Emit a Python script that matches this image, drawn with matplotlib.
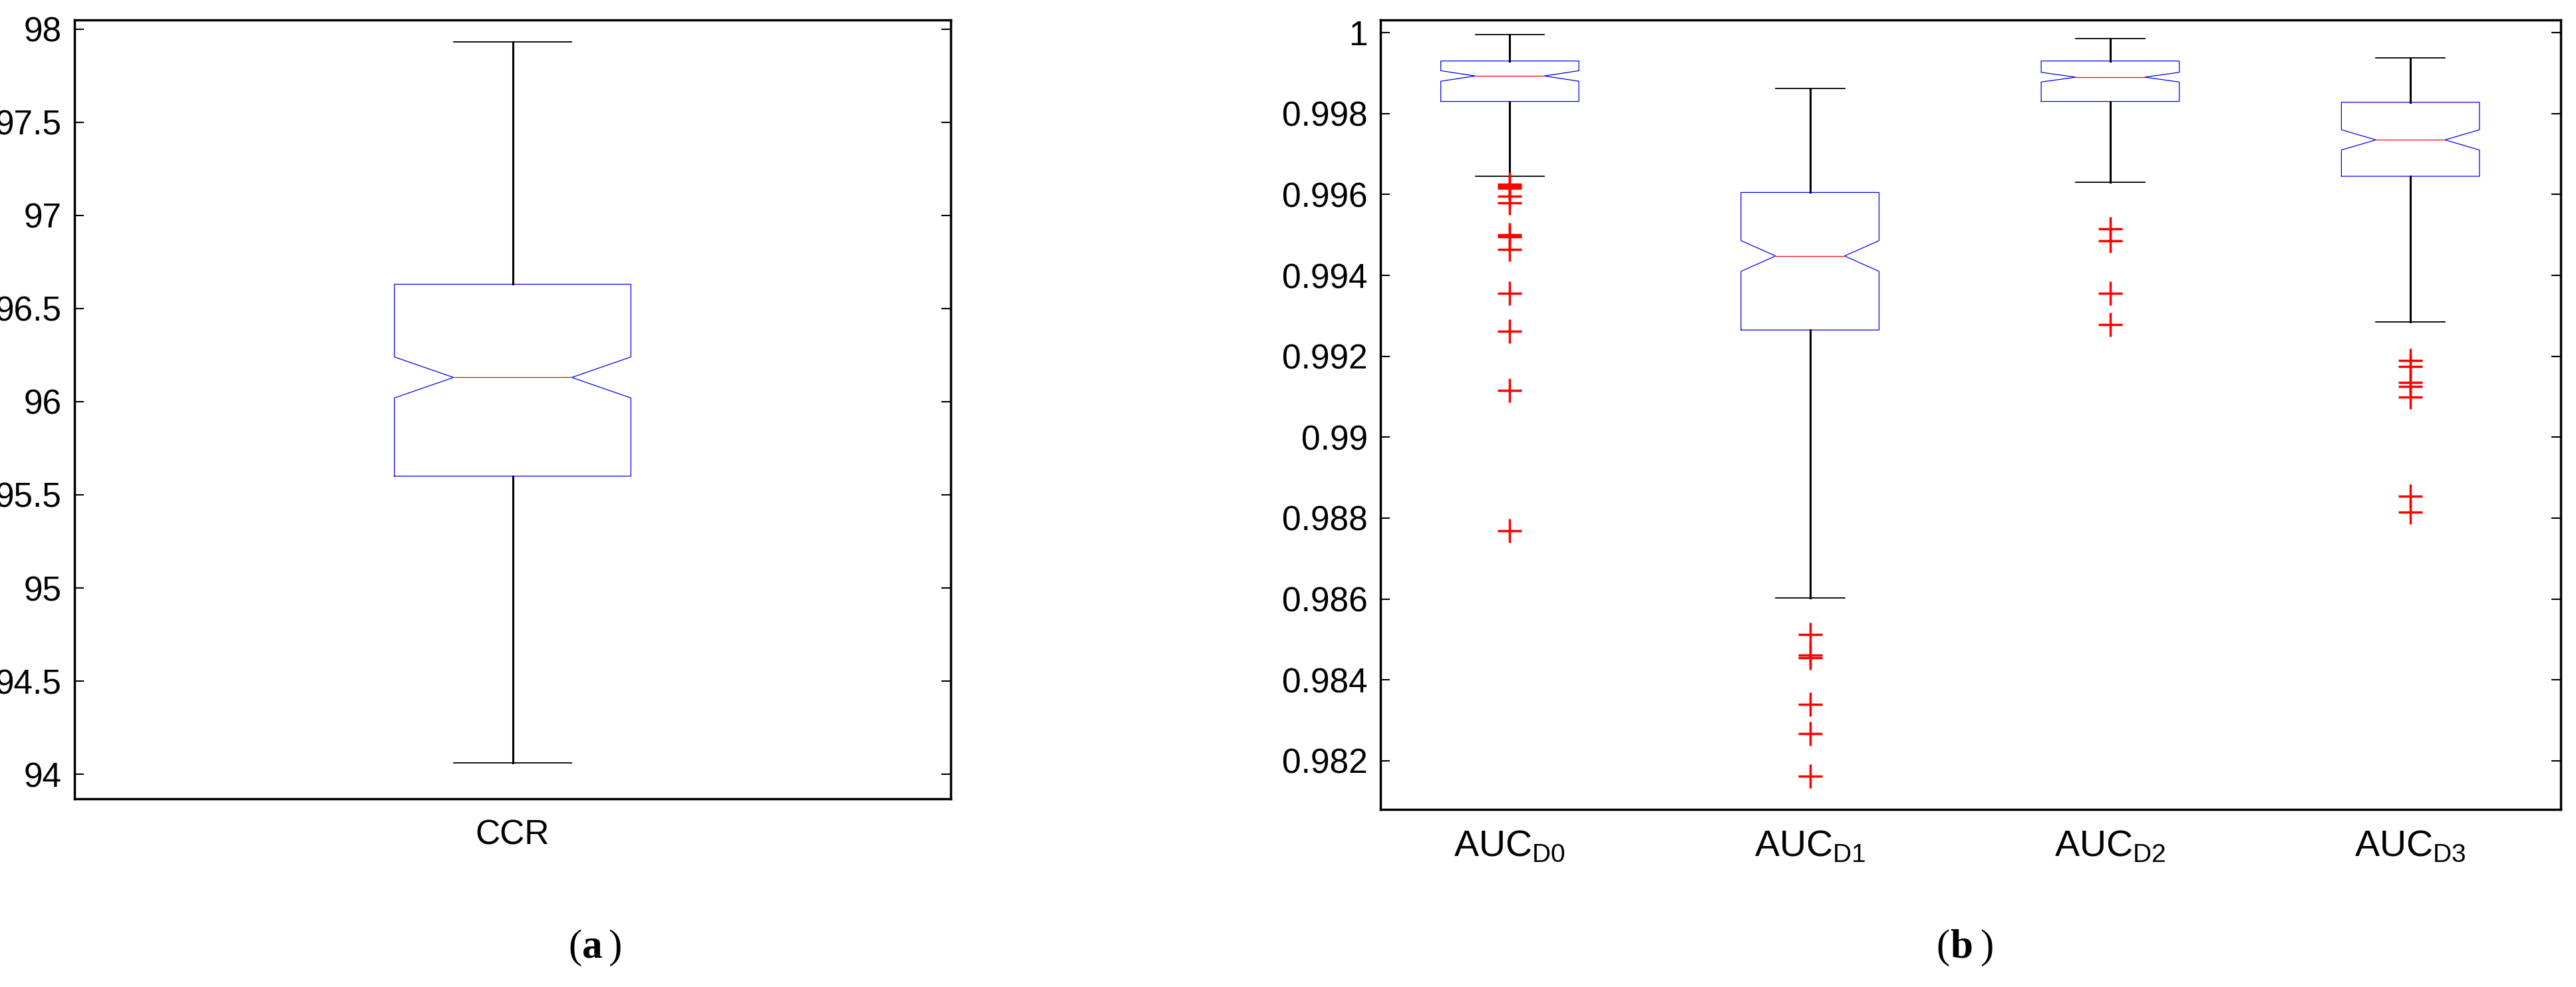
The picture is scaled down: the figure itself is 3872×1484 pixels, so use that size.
import matplotlib.pyplot as plt
from matplotlib.ticker import FuncFormatter

plt.rcParams['font.family'] = ['Liberation Sans', 'DejaVu Sans']
plt.rcParams['mathtext.fontset'] = 'custom'
plt.rcParams['mathtext.rm'] = 'Liberation Sans'
plt.rcParams['mathtext.bf'] = 'Liberation Serif:bold'

# panel (a)
ccr_label = ['CCR']
ccr_stats = dict(whislo=94.06, q1=95.60, med=96.13, q3=96.63, whishi=97.93,
                 cilo=96.02, cihi=96.24, fliers=[])

# panel (b)
auc_labels = ['AUC$_{\\mathrm{D0}}$', 'AUC$_{\\mathrm{D1}}$', 'AUC$_{\\mathrm{D2}}$', 'AUC$_{\\mathrm{D3}}$']
auc_whislo = [0.99645, 0.98602, 0.99630, 0.99285]
auc_q1 = [0.99830, 0.99265, 0.99830, 0.99645]
auc_med = [0.99893, 0.99448, 0.99890, 0.99735]
auc_q3 = [0.99930, 0.99605, 0.99930, 0.99828]
auc_whishi = [0.99995, 0.99862, 0.99985, 0.99938]
auc_cilo = [0.99880, 0.99410, 0.99878, 0.99710]
auc_cihi = [0.99906, 0.99486, 0.99902, 0.99760]
auc_fliers = [
    [0.99625, 0.99620, 0.99615, 0.99595, 0.99580, 0.99500, 0.99495, 0.99465, 0.99355, 0.99262, 0.99115, 0.98768],
    [0.98512, 0.98462, 0.98455, 0.98340, 0.98268, 0.98162],
    [0.99515, 0.99485, 0.99355, 0.99278],
    [0.99190, 0.99175, 0.99135, 0.99125, 0.99100, 0.98855, 0.98815],
]

auc_stats = [dict(whislo=auc_whislo[i], q1=auc_q1[i], med=auc_med[i], q3=auc_q3[i],
                  whishi=auc_whishi[i], cilo=auc_cilo[i], cihi=auc_cihi[i],
                  fliers=auc_fliers[i]) for i in range(4)]

style = dict(
    shownotches=True,
    boxprops=dict(color='blue', linewidth=0.9),
    medianprops=dict(color='red', linewidth=0.9),
    whiskerprops=dict(color='black', linewidth=2.2),
    capprops=dict(color='black', linewidth=1.3),
    flierprops=dict(marker='+', markeredgecolor='red', markersize=26, markeredgewidth=2.5),
)

fig = plt.figure(figsize=(38.72, 14.84), dpi=100)
ax1 = fig.add_axes([0.029, 0.191, 0.340, 0.789])
ax2 = fig.add_axes([0.536, 0.180, 0.458, 0.800])

ax1.bxp([ccr_stats], positions=[1], widths=0.27, **style)
ax1.set_xlim(0.5, 1.5)
ax1.set_ylim(93.87, 98.05)
ax1.set_yticks([94, 94.5, 95, 95.5, 96, 96.5, 97, 97.5, 98])
ax1.yaxis.set_major_formatter(FuncFormatter(lambda v, p: f'{v:g}'))
ax1.set_xticklabels(ccr_label)

ax2.bxp(auc_stats, positions=[1, 2, 3, 4], widths=0.46, **style)
ax2.set_xlim(0.57, 4.5)
ax2.set_ylim(0.98080, 1.00032)
ax2.set_yticks([0.982, 0.984, 0.986, 0.988, 0.99, 0.992, 0.994, 0.996, 0.998, 1.0])
ax2.yaxis.set_major_formatter(FuncFormatter(lambda v, p: f'{v:g}'))
ax2.set_xticklabels(auc_labels)

for ax in (ax1, ax2):
    ax.tick_params(direction='in', length=10, width=1.5, labelsize=37,
                   right=True, top=True, pad=14)
    ax.tick_params(axis='x', length=0, pad=22)
    for s in ax.spines.values():
        s.set_linewidth(2.5)
ax2.tick_params(axis='x', labelsize=40)

fig.text(0.226, 0.03, '(', ha='right', fontsize=44, family='Liberation Serif')
fig.text(0.226, 0.03, 'a', ha='left', fontsize=44, family='Liberation Serif', weight='bold')
fig.text(0.236, 0.03, ')', ha='left', fontsize=44, family='Liberation Serif')
fig.text(0.757, 0.03, '(', ha='right', fontsize=44, family='Liberation Serif')
fig.text(0.757, 0.03, 'b', ha='left', fontsize=44, family='Liberation Serif', weight='bold')
fig.text(0.7685, 0.03, ')', ha='left', fontsize=44, family='Liberation Serif')

fig.savefig('out.png')
